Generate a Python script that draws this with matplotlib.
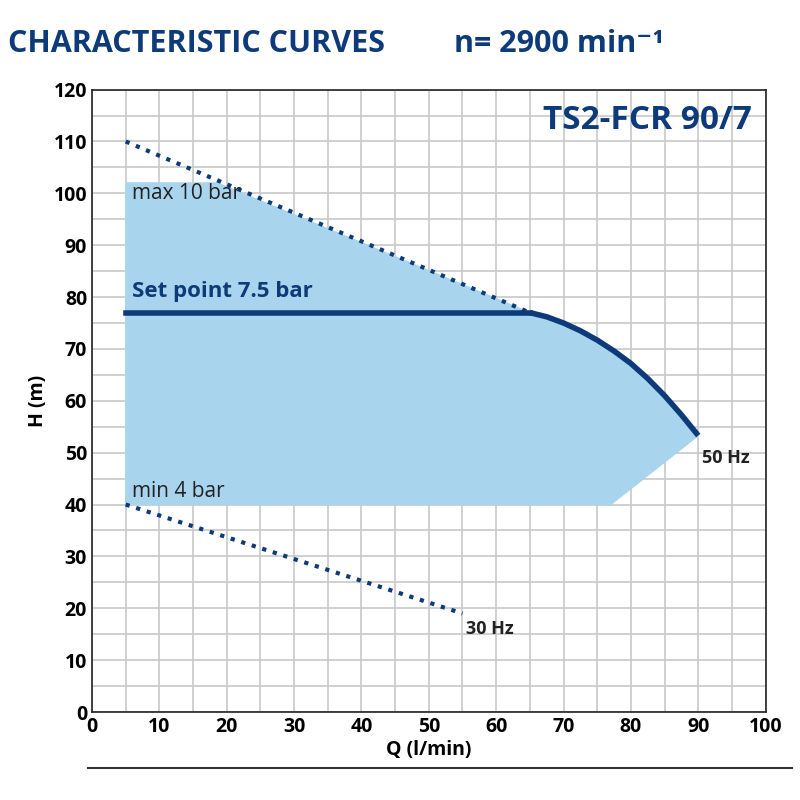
import matplotlib
matplotlib.use("Agg")
import matplotlib.pyplot as plt
import numpy as np

max_q = [5, 65]; max_h = [110, 77]
min_q = [5, 55]; min_h = [40, 19]
set_q = [5, 65]; set_h = [77, 77]
curve_q = [65, 67.5, 70, 72.5, 75, 77.5, 80, 82.5, 85, 87.5, 90]
curve_h = [77, 76.2, 75.0, 73.5, 71.7, 69.6, 67.2, 64.3, 61.0, 57.3, 53.3]
area_q = [5, 5, 18.6, 65] + curve_q[1:] + [77, 5]
area_h = [40, 102, 102, 77] + curve_h[1:] + [40, 40]

navy = "#0d3a78"
plt.rcParams['font.family'] = ['Open Sans', 'DejaVu Sans']
fig = plt.figure(figsize=(8, 8), dpi=100)
ax = fig.add_axes([0.115, 0.11, 0.842, 0.778])
ax.set_xlim(0, 100); ax.set_ylim(0, 120)
ax.set_xticks(range(0, 101, 10)); ax.set_yticks(range(0, 121, 10))
ax.set_xticks(range(0, 101, 5), minor=True); ax.set_yticks(range(0, 121, 5), minor=True)
ax.grid(True, which='both', color='#c8c8c8', lw=1.2)
ax.tick_params(which='both', length=0, labelsize=14)
for l in ax.get_xticklabels() + ax.get_yticklabels():
    l.set_fontweight('bold')
ax.set_axisbelow(True)
for s in ax.spines.values():
    s.set_color('#222222'); s.set_linewidth(1.2)
ax.fill(area_q, area_h, color='#a8d4ee', zorder=2)
ax.plot(max_q, max_h, ':', color=navy, lw=3, zorder=3)
ax.plot(min_q, min_h, ':', color=navy, lw=3, zorder=3)
ax.plot(set_q, set_h, '-', color=navy, lw=4, zorder=4)
ax.plot(curve_q, curve_h, '-', color=navy, lw=4, zorder=4, solid_capstyle='butt')
ax.text(6, 100, "max 10 bar", fontsize=15, color='#222222', va='center')
ax.text(6, 42.5, "min 4 bar", fontsize=15, color='#222222', va='center')
ax.text(6, 81, "Set point 7.5 bar", fontsize=16, fontweight='bold', color=navy, va='center')
ax.text(90.5, 49, "50 Hz", fontsize=13, fontweight='bold', color='#222222', va='center')
ax.text(55.5, 16, "30 Hz", fontsize=13, fontweight='bold', color='#222222', va='center')
ax.text(98, 114, "TS2-FCR 90/7", fontsize=24, fontweight='bold', color=navy, ha='right', va='center')
ax.set_xlabel("Q (l/min)", fontsize=14, fontweight='bold', labelpad=2)
ax.set_ylabel("H (m)", fontsize=14, fontweight='bold', labelpad=4)
fig.text(0.01, 0.945, "CHARACTERISTIC CURVES", fontsize=22, fontweight='bold', color=navy, va='center')
fig.text(0.568, 0.945, "n= 2900 min\u207b\u00b9", fontsize=22, fontweight='bold', color=navy, va='center')
fig.add_artist(plt.Line2D([0.11, 0.99], [0.04, 0.04], color='#333333', lw=1.5))
fig.savefig("out.png")
